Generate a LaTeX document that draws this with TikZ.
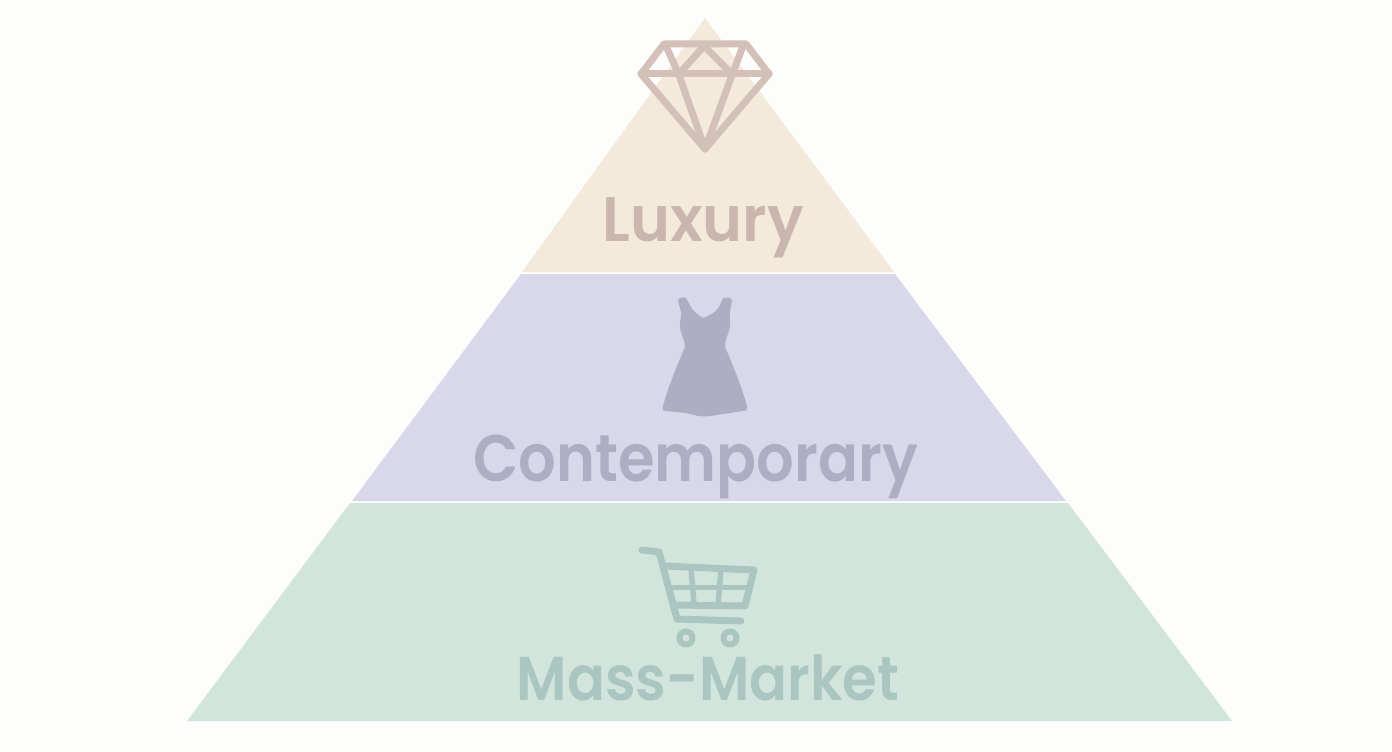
\documentclass[tikz,border=0pt]{standalone}
\usepackage{fontspec}
\setmainfont{Poppins}
\newfontfamily\labelfont{Poppins SemiBold}
\definecolor{bgc}{HTML}{FDFDFC}
\definecolor{lux}{HTML}{F3EADC}
\definecolor{con}{HTML}{D9D8EB}
\definecolor{mas}{HTML}{D2E5DD}
\definecolor{luxi}{HTML}{D3C1B9}
\definecolor{luxt}{HTML}{CAB6AC}
\definecolor{coni}{HTML}{AEADC3}
\definecolor{masi}{HTML}{ABC6C0}
\tikzset{
  layer/.style={draw=none},
  label/.style={inner sep=0pt,anchor=base,transform shape},
  gem/.style={draw=luxi,line width=7pt,line join=round,line cap=round},
  cartline/.style={draw=masi,line join=round,line cap=round},
}
\begin{document}
\begin{tikzpicture}[x=1pt,y=-1pt]
\useasboundingbox (0,0) rectangle (1392,752);
\fill[bgc] (0,0) rectangle (1392,752);
% layers
\fill[layer,lux] (705,18) -- (894,272) -- (522,272) -- cycle;
\fill[layer,con] (521,274) -- (895,274) -- (1066,501) -- (352,501) -- cycle;
\fill[layer,mas] (350,503) -- (1068,503) -- (1232,721) -- (187,721) -- cycle;
% diamond
\draw[gem] (664,44) -- (746,44) -- (769,74) -- (705,149) -- (641,74) -- cycle;
\draw[gem] (641,74) -- (769,74);
\draw[gem] (666,46) -- (679,75) -- (705,149) -- (732,75) -- (743,46);
\draw[gem] (679,74) -- (704,46) -- (732,74);
% dress
\fill[coni] (678,300) .. controls (680,297) and (684,297) .. (686,298)
  -- (691,307) .. controls (693,311) and (698,315) .. (703,318)
  .. controls (709,316) and (715,313) .. (719,307) -- (723,298)
  .. controls (726,297) and (730,297) .. (732,300)
  -- (730,312) .. controls (729,318) and (731,322) .. (730,327)
  .. controls (728,335) and (725,340) .. (725,347)
  .. controls (733,365) and (742,388) .. (747,406)
  .. controls (748,410) and (746,411) .. (743,411)
  .. controls (735,412) and (725,414) .. (716,415)
  .. controls (708,417) and (700,417) .. (690,414)
  .. controls (682,412) and (672,412) .. (666,411)
  .. controls (663,411) and (662,409) .. (663,406)
  .. controls (668,388) and (677,365) .. (685,347)
  .. controls (685,340) and (681,335) .. (680,327)
  .. controls (679,322) and (682,318) .. (681,312) -- cycle;
% cart
\draw[cartline,line width=7pt] (642,550) -- (659,552) -- (677,619) -- (741,621);
\draw[cartline,line width=7pt] (664,566) -- (754,570) -- (745,606) -- (674,605);
\draw[cartline,line width=5pt] (668,587) -- (749,587);
\draw[cartline,line width=5.5pt] (691,568) -- (694,604);
\draw[cartline,line width=5.5pt] (721,569) -- (718,605);
\draw[masi,line width=6pt] (686,638) circle (6.5);
\draw[masi,line width=6pt] (730,638) circle (6.5);
% labels
\node[label,text=luxt,xscale=0.96,font=\labelfont\fontsize{63}{63}\selectfont] (tl) at (703,241) {Luxury};
\node[label,text=coni,xscale=0.895,font=\labelfont\fontsize{66}{66}\selectfont] (tc) at (695.5,481) {Contemporary};
\node[label,text=masi,xscale=0.905,font=\labelfont\fontsize{62}{62}\selectfont] (tm) at (708,700) {Mass-Market};
\end{tikzpicture}
\end{document}
